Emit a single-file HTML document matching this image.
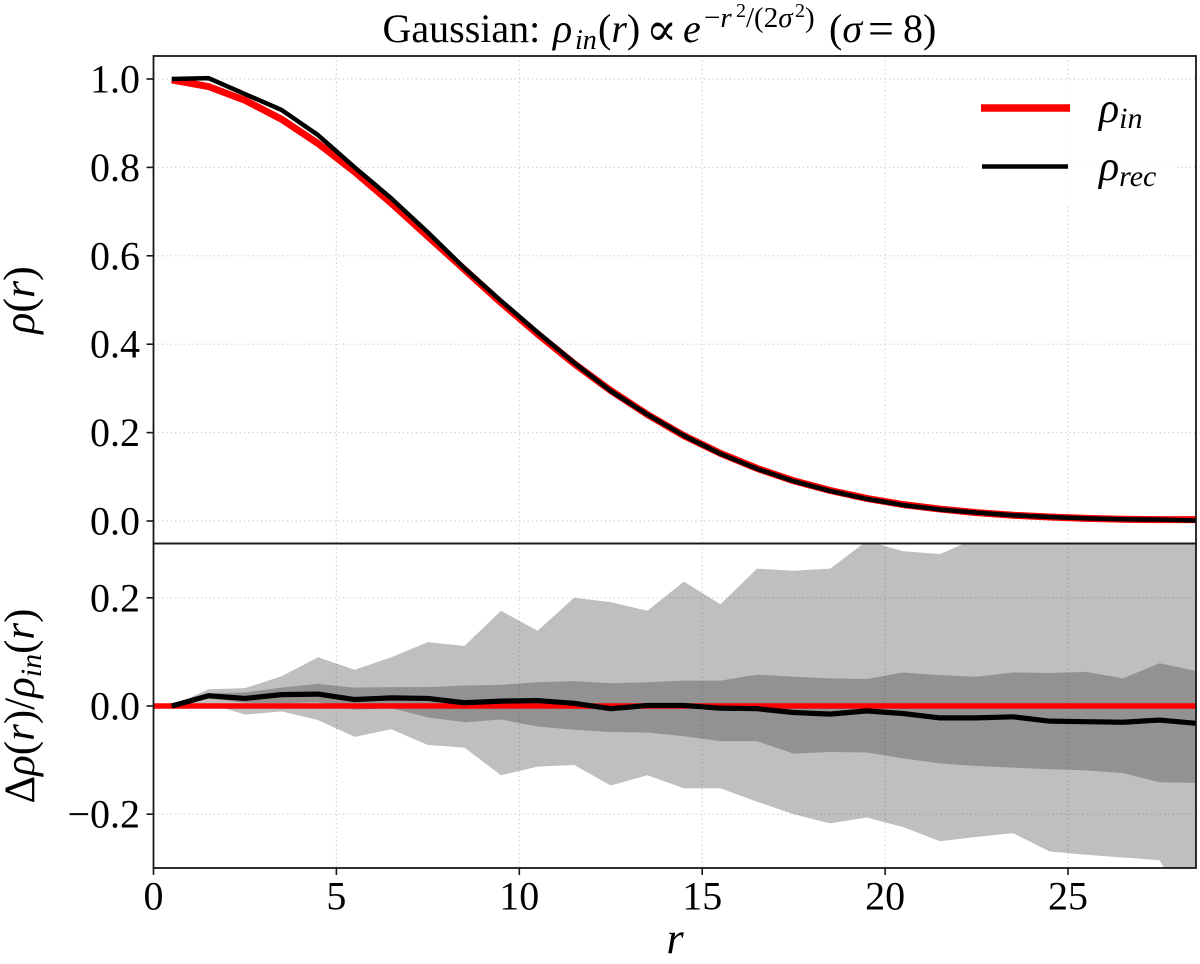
<!DOCTYPE html>
<html>
<head>
<meta charset="utf-8">
<style>
html,body{margin:0;padding:0;background:#fff;}
svg{display:block;}
text{font-family:"Liberation Serif","DejaVu Serif",serif;fill:#000;}
.m{font-style:italic;}
</style>
</head>
<body>
<svg id="chart" xmlns="http://www.w3.org/2000/svg" width="1200" height="964" viewBox="0 0 1200 964">
<defs>
<clipPath id="clip-top"><rect x="153.5" y="56" width="1042.5" height="487.5"/></clipPath>
<clipPath id="clip-bot"><rect x="153.5" y="543.5" width="1042.5" height="324.5"/></clipPath>
</defs>
<rect width="1200" height="964" fill="#fff"/>
<g id="grid"></g>
<g id="fills" clip-path="url(#clip-bot)"></g>
<g id="lines-bot" clip-path="url(#clip-bot)"></g>
<rect x="967" y="80" width="208" height="124" fill="#fff" fill-opacity="0.8"/>
<g id="lines-top" clip-path="url(#clip-top)"></g>
<g id="ticks"></g>
<g fill="none" stroke="#181818" stroke-width="1.8">
<rect x="153.5" y="56" width="1042.5" height="487.5"/>
<rect x="153.5" y="543.5" width="1042.5" height="324.5"/>
</g>
<g font-size="40">
<text x="382.500" y="42">Gaussian:</text>
<text x="553" y="42" class="m">ρ</text>
<text x="575" y="49" class="m" font-size="28">in</text>
<text x="598" y="42">(<tspan class="m">r</tspan>)</text>
<text x="646" y="45" font-size="46">∝</text>
<text x="683" y="42" class="m">e</text>
<text x="704" y="27" font-size="29">−<tspan class="m">r</tspan></text>
<text x="736" y="17" font-size="20">2</text>
<text x="746" y="27" font-size="29">/(2<tspan class="m">σ</tspan></text>
<text x="795" y="17" font-size="20">2</text>
<text x="805" y="27" font-size="29">)</text>
<text x="829" y="42">(<tspan class="m">σ</tspan></text>
<text x="868" y="44" font-size="46">=</text>
<text x="903" y="42">8)</text>
</g>
<g>
<line x1="981" x2="1070" y1="108" y2="108" stroke="#f00" stroke-width="7.5"/>
<line x1="982" x2="1068" y1="166.500" y2="166.500" stroke="#000" stroke-width="4.5"/>
<text x="1099" y="122" font-size="42" class="m">ρ<tspan font-size="30" dy="6">in</tspan></text>
<text x="1099" y="180" font-size="42" class="m">ρ<tspan font-size="30" dy="6">rec</tspan></text>
</g>
<text x="675" y="953" text-anchor="middle" font-size="44" class="m">r</text>
<text transform="translate(34,300) rotate(-90)" text-anchor="middle" font-size="44"><tspan class="m">ρ</tspan>(<tspan class="m">r</tspan>)</text>
<text transform="translate(34,706) rotate(-90)" text-anchor="middle" font-size="43">Δ<tspan class="m">ρ</tspan>(<tspan class="m">r</tspan>)/<tspan class="m">ρ</tspan><tspan class="m" font-size="30" dy="7">in</tspan><tspan dy="-7">(</tspan><tspan class="m">r</tspan>)</text>
</svg>
<script>
var radius = [0.5,1.5,2.5,3.5,4.5,5.5,6.5,7.5,8.5,9.5,10.5,11.5,12.5,13.5,14.5,15.5,16.5,17.5,18.5,19.5,20.5,21.5,22.5,23.5,24.5,25.5,26.5,27.5,28.5];
var rhoIn = [0.998,0.983,0.952,0.909,0.854,0.790,0.719,0.644,0.569,0.494,0.423,0.356,0.295,0.241,0.193,0.153,0.119,0.091,0.069,0.051,0.037,0.027,0.019,0.013,0.009,0.006,0.004,0.003,0.003];
var rhoRec = [1.000,1.002,0.966,0.930,0.873,0.800,0.730,0.653,0.572,0.498,0.427,0.358,0.294,0.241,0.193,0.152,0.118,0.090,0.068,0.050,0.036,0.026,0.019,0.013,0.009,0.006,0.004,0.003,0.001];
var residual = [0,0.019,0.014,0.021,0.022,0.012,0.015,0.014,0.006,0.009,0.010,0.005,-0.005,0.001,0.001,-0.004,-0.005,-0.012,-0.015,-0.009,-0.014,-0.022,-0.022,-0.020,-0.028,-0.029,-0.030,-0.026,-0.032];
var zeroLine = [0,0,0,0,0,0,0,0,0,0,0,0,0,0,0,0,0,0,0,0,0,0,0,0,0,0,0,0,0];
var outerUpper = [0,0.031,0.033,0.055,0.090,0.067,0.090,0.118,0.111,0.176,0.139,0.200,0.192,0.176,0.230,0.188,0.254,0.250,0.254,0.305,0.286,0.281,0.310,0.340,0.360,0.380,0.400,0.420,0.440];
var outerLower = [0,0.005,-0.016,-0.010,-0.026,-0.057,-0.043,-0.072,-0.077,-0.128,-0.112,-0.109,-0.147,-0.128,-0.152,-0.152,-0.177,-0.200,-0.217,-0.206,-0.224,-0.250,-0.242,-0.235,-0.269,-0.275,-0.280,-0.285,-0.400];
var innerUpper = [0,0.023,0.025,0.034,0.041,0.034,0.035,0.035,0.038,0.039,0.044,0.046,0.042,0.044,0.047,0.047,0.058,0.054,0.051,0.050,0.062,0.057,0.054,0.062,0.061,0.063,0.051,0.079,0.065];
var innerLower = [0,0.014,0.006,0.005,0.007,-0.007,-0.004,-0.021,-0.030,-0.025,-0.038,-0.044,-0.048,-0.049,-0.056,-0.065,-0.065,-0.088,-0.085,-0.086,-0.097,-0.106,-0.111,-0.114,-0.117,-0.119,-0.124,-0.141,-0.142];
var xTicks = [0,5,10,15,20,25];
var xTickLabels = ["0","5","10","15","20","25"];
var topTicks = [0,0.2,0.4,0.6,0.8,1.0];
var topTickLabels = ["0.0","0.2","0.4","0.6","0.8","1.0"];
var botTicks = [-0.2,0,0.2];
var botTickLabels = ["\u22120.2","0.0","0.2"];

var NS = 'http://www.w3.org/2000/svg';
function xAxis(v){ return 153.5 + v * 36.58; }
function yTop(v){ return 521 - v * 442; }
function yBot(v){ return 706 - v * 541; }
function make(tag, parent, attrs){
  var el = document.createElementNS(NS, tag);
  for (var k in attrs) el.setAttribute(k, attrs[k]);
  document.getElementById(parent).appendChild(el);
  return el;
}
function linePoints(xs, ys, yf){
  return xs.map(function(x,i){ return xAxis(x).toFixed(2) + ',' + yf(ys[i]).toFixed(2); }).join(' ');
}
function bandPoints(xs, up, lo, yf){
  var a = xs.map(function(x,i){ return xAxis(x).toFixed(2) + ',' + yf(up[i]).toFixed(2); });
  var b = xs.map(function(x,i){ return xAxis(x).toFixed(2) + ',' + yf(lo[i]).toFixed(2); }).reverse();
  return a.concat(b).join(' ');
}
function gridLine(x1,y1,x2,y2){
  var l = make('line','grid',{x1:x1,y1:y1,x2:x2,y2:y2,stroke:'#cfcfcf','stroke-width':1.2,'stroke-dasharray':'1.3 3'});
  
  
}
function tick(x1,y1,x2,y2){
  var l = make('line','ticks',{x1:x1,y1:y1,x2:x2,y2:y2,stroke:'#181818','stroke-width':1.6});
  
  
}
function label(x,y,anchor,s){
  var t = make('text','ticks',{x:x,y:y,'text-anchor':anchor,'font-size':40});
  t.textContent = s;
  
  
}
xTicks.forEach(function(v,i){
  var x = xAxis(v);
  gridLine(x,56,x,543.5);
  gridLine(x,543.5,x,868);
  tick(x,868,x,875);
  label(x,909.5,'middle',xTickLabels[i]);
});
topTicks.forEach(function(v,i){
  var y = yTop(v);
  gridLine(153.5,y,1196,y);
  tick(146.5,y,153.5,y);
  label(140,y+13.5,'end',topTickLabels[i]);
});
botTicks.forEach(function(v,i){
  var y = yBot(v);
  gridLine(153.5,y,1196,y);
  tick(146.5,y,153.5,y);
  label(140,y+13.5,'end',botTickLabels[i]);
});

var outer = make('polygon','fills',{points:bandPoints(radius,outerUpper,outerLower,yBot),fill:'#000','fill-opacity':0.25});


var inner = make('polygon','fills',{points:bandPoints(radius,innerUpper,innerLower,yBot),fill:'#000','fill-opacity':0.235});



var refLine = make('polyline','lines-bot',{points:'153.5,'+yBot(zeroLine[0])+' '+linePoints(radius,zeroLine,yBot),fill:'none',stroke:'#f00','stroke-width':5.5});


var resLine = make('polyline','lines-bot',{points:linePoints(radius,residual,yBot),fill:'none',stroke:'#000','stroke-width':5.2,'stroke-linejoin':'round'});



var inLine = make('polyline','lines-top',{points:linePoints(radius,rhoIn,yTop),fill:'none',stroke:'#f00','stroke-width':7,'stroke-linejoin':'round'});


var recLine = make('polyline','lines-top',{points:linePoints(radius,rhoRec,yTop),fill:'none',stroke:'#000','stroke-width':4.5,'stroke-linejoin':'round'});


</script>
</body>
</html>
